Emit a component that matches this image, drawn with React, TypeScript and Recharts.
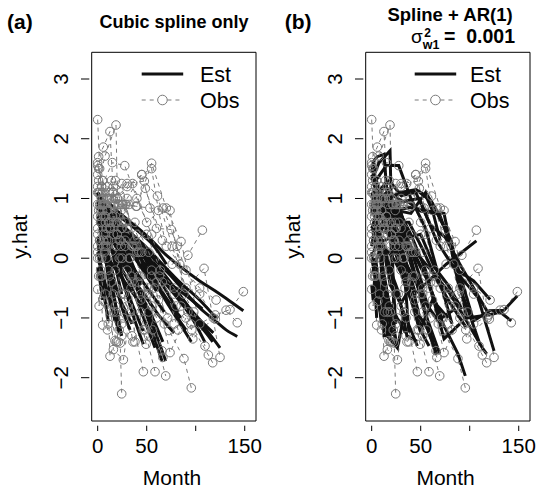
import React from 'react';
import { LineChart, Line, XAxis, YAxis, ReferenceArea } from 'recharts';

// ---------- tick labels ----------
const monthTicks = [0, 50, 100, 150];
const monthTickLabels = ['0', '50', '', '150'];
const yTicks = [-2, -1, 0, 1, 2, 3];
const yTickLabels = ['−2', '−1', '0', '1', '2', '3'];

// ---------- per-subject data (months, observed, spline estimate, spline+AR(1) estimate) ----------
const subjectTimes: number[][] = [
  [10, 25, 40, 55, 70, 85, 104, 120, 135, 148.6],
  [5, 18, 30, 45, 60, 75, 90, 104, 120, 131, 142.4],
  [3, 15, 30, 47.6, 61, 76, 90, 108.5, 124.8],
  [8, 20, 35.7, 50, 66.9, 81, 97, 118],
  [6, 22, 39, 53.3, 73.8, 88, 98, 109.5],
  [12, 28, 45, 63, 78, 95, 112.9, 117.3],
  [2, 14, 28, 44, 60, 76, 92, 106.8],
  [4, 16, 32, 48.6, 66, 83.7, 104, 120.8],
  [3, 12, 24.5, 38, 52, 69.4],
  [0, 10, 22, 35, 48, 58.5],
  [1, 9, 18, 27, 36, 46.5],
  [2, 14.6, 25, 35, 46.6],
  [5, 20, 35, 50, 65.6],
  [8, 25, 42, 58, 72.8, 88, 95.5],
  [10, 26, 40, 55, 73.8, 90],
  [6, 20, 34, 49.4, 62, 78],
  [0, 12, 24, 40, 55, 71.4, 85],
  [4, 15, 27.6, 40, 55, 70, 82],
  [0, 2, 5, 9, 12.6, 17.6],
  [1, 5.7, 12.5, 19, 24.5],
  [0, 7.5, 18.7, 23, 24.5],
  [3, 8, 14, 19, 24.5],
  [0, 3, 6.3, 10.8],
  [0, 1.5, 3, 5.1],
  [2, 9, 16, 26.2, 33],
  [0, 4, 10, 15.9, 22],
  [1, 6, 14, 21, 30, 38],
  [0, 5, 11, 17, 24],
  [5, 18, 30, 45, 55, 62, 70],
  [0, 6, 13, 20, 28, 36, 44, 52, 60],
  [3, 11, 19, 30, 41, 52],
  [0, 8, 16, 25, 34, 44, 56, 66.5],
  [1, 7, 14, 24, 38, 52, 66, 80, 96],
  [0, 4, 9, 15, 22, 30],
  [0, 3, 7, 12, 18, 26, 35],
  [1, 6, 12, 20, 29, 40, 52],
  [0, 2, 6, 11, 16, 21],
  [2, 8, 15, 23, 32, 42, 55, 68],
  [0, 5, 10, 16, 24, 33, 44],
  [1, 4, 8, 13, 19],
  [3, 10, 18, 28, 38, 50, 64, 78, 92],
];

const obsValues: number[][] = [
  [1.2, 0.9, 0.87, 1.59, 0.84, 0.28, -1.1, -0.95, -0.86, -0.56],
  [0.9, 1.3, 1.0, 1.4, 0.5, 0.48, -0.2, -0.6, -1.02, -0.87, -1.08],
  [0.7, 1.1, 1.25, 1.29, 1.04, 0.2, -0.5, -0.17, -1.66],
  [0.6, 1.0, 1.25, 0.6, 0.84, 0.2, -1.35, -1.0],
  [0.4, 0.9, 0.87, 0.84, 0.8, -0.6, -0.9, -1.47],
  [0.5, 0.3, 0.1, -0.3, -0.6, -1.1, -1.62, -1.75],
  [0.3, 0.6, 0.2, -0.7, -0.4, -0.1, 0.05, 0.47],
  [1.0, 1.2, 0.9, 1.17, 0.3, -0.1, -0.5, -0.7],
  [0.9, 0.6, 1.25, 0.2, -0.9, -1.97],
  [0.5, 0.2, 0.0, -0.4, -1.2, -1.9],
  [0.8, 0.3, -0.2, -0.6, -1.4, -1.2],
  [0.3, 0.12, -0.6, -1.0, -1.9],
  [1.1, 0.6, 0.2, -0.6, -1.55],
  [0.7, 0.5, 0.1, -0.5, -1.21, -1.68, -2.17],
  [0.8, 0.9, 0.4, -0.2, -1.58, -1.0],
  [0.2, 0.4, -0.3, -1.44, -0.7, -1.1],
  [1.4, 1.1, 0.8, 0.2, -0.3, -1.0, -0.8],
  [1.2, 1.6, 1.55, 1.0, 0.4, -0.5, -1.2],
  [2.32, 1.5, 0.9, 0.0, -1.64, -1.38],
  [1.7, 1.86, 2.12, 0.2, -1.3],
  [1.2, 1.71, 2.23, -1.42, -2.27],
  [0.6, 0.2, -0.4, -0.9, -1.1],
  [0.1, -0.3, -0.72, -1.1],
  [-0.52, -0.8, -0.3, -1.12],
  [0.9, 0.5, -1.53, -1.7, -0.9],
  [0.0, -0.3, -1.2, -0.6, -1.2],
  [1.5, 1.0, 1.3, 0.9, 0.5, -1.4],
  [0.9, 1.3, 0.6, 0.9, 0.2],
  [0.8, 1.0, 1.2, 1.4, 1.5, 0.8, 0.2],
  [0.4, 0.9, 0.5, 1.0, 0.6, 0.2, -0.3, -0.6, -1.0],
  [-0.2, 0.3, -0.5, -0.8, -0.4, -1.3],
  [1.1, 0.7, 0.4, 0.0, -0.5, -0.9, -1.2, -1.66],
  [1.3, 0.9, 1.0, 0.5, 0.6, 0.1, -0.4, -0.8, -1.2],
  [1.6, 1.2, 1.0, 0.7, 0.3, -0.2],
  [0.2, 0.6, 0.1, -0.3, -0.8, -1.0, -1.3],
  [1.1, 0.7, 1.0, 0.4, 0.9, 0.1, -0.5],
  [0.7, 1.1, 0.3, -0.2, -0.9, -1.4],
  [0.0, 0.4, 0.7, 0.3, 0.0, -0.3, -0.8, -1.1],
  [1.55, 1.3, 0.8, 1.1, 0.6, 0.0, -0.6],
  [-0.3, 0.0, -0.6, -0.9, -1.4],
  [0.8, 1.0, 0.6, 0.9, 0.3, 0.4, -0.2, -0.5, -0.9],
];

const splineEst: number[][] = [
  [0.95, 0.72, 0.52, 0.3, 0.05, -0.15, -0.38, -0.55, -0.72, -0.88],
  [0.85, 0.65, 0.45, 0.2, -0.05, -0.3, -0.58, -0.83, -1.05, -1.2, -1.31],
  [0.8, 0.62, 0.38, 0.08, -0.18, -0.5, -0.8, -1.15, -1.5],
  [0.75, 0.55, 0.3, 0.05, -0.25, -0.55, -0.9, -1.25],
  [0.7, 0.45, 0.15, -0.1, -0.45, -0.8, -1.05, -1.41],
  [0.6, 0.35, 0.05, -0.3, -0.6, -0.95, -1.3, -1.4],
  [0.55, 0.35, 0.15, -0.05, -0.25, -0.45, -0.65, -0.85],
  [0.9, 0.7, 0.45, 0.2, -0.1, -0.4, -0.7, -1.0],
  [0.7, 0.4, 0.0, -0.45, -0.95, -1.72],
  [0.6, 0.3, -0.1, -0.5, -1.05, -1.5],
  [0.75, 0.4, 0.0, -0.4, -0.8, -1.22],
  [0.4, 0.12, -0.35, -0.9, -1.44],
  [1.0, 0.4, -0.2, -0.95, -1.72],
  [0.6, 0.3, -0.05, -0.4, -0.8, -1.2, -1.4],
  [0.8, 0.5, 0.15, -0.25, -0.8, -1.2],
  [0.3, 0.05, -0.3, -0.65, -0.95, -1.25],
  [1.05, 0.8, 0.5, 0.1, -0.3, -0.7, -1.0],
  [0.95, 0.75, 0.5, 0.2, -0.15, -0.55, -0.9],
  [1.1, 0.8, 0.4, -0.1, -0.6, -1.05],
  [0.9, 0.65, 0.3, -0.2, -0.6],
  [0.85, 0.6, 0.2, -0.05, -0.15],
  [0.5, 0.1, -0.35, -0.85, -1.3],
  [0.3, -0.1, -0.55, -1.05],
  [-0.15, -0.3, -0.45, -0.7],
  [0.6, 0.2, -0.3, -0.9, -1.2],
  [0.1, -0.2, -0.6, -0.9, -1.25],
  [1.0, 0.85, 0.6, 0.35, 0.0, -0.45],
  [0.95, 0.8, 0.65, 0.45, 0.2],
  [0.85, 0.75, 0.6, 0.4, 0.25, 0.1, -0.1],
  [0.7, 0.6, 0.5, 0.4, 0.25, 0.1, -0.1, -0.35, -0.55],
  [0.2, 0.0, -0.2, -0.45, -0.7, -0.95],
  [0.9, 0.65, 0.4, 0.1, -0.25, -0.6, -1.0, -1.4],
  [0.95, 0.85, 0.7, 0.5, 0.25, 0.0, -0.3, -0.6, -0.95],
  [1.05, 0.9, 0.7, 0.45, 0.15, -0.2],
  [0.35, 0.2, 0.0, -0.25, -0.5, -0.8, -1.1],
  [0.8, 0.7, 0.55, 0.4, 0.2, -0.05, -0.35],
  [0.7, 0.55, 0.25, -0.15, -0.6, -1.0],
  [0.45, 0.4, 0.3, 0.15, -0.05, -0.3, -0.6, -0.9],
  [1.1, 0.95, 0.8, 0.6, 0.35, 0.0, -0.45],
  [-0.05, -0.2, -0.45, -0.75, -1.05],
  [0.8, 0.7, 0.55, 0.4, 0.2, 0.0, -0.3, -0.55, -0.8],
];

const arEst: number[][] = [
  [1.0, 0.8, 0.75, 1.1, 0.7, 0.0, -1.05, -0.88, -0.87, -0.63],
  [1.0, 1.3, 1.05, 1.1, 0.55, 0.35, -0.1, -0.5, -0.95, -0.9, -1.05],
  [0.8, 1.0, 1.1, 1.12, 0.95, 0.46, -0.3, -0.66, -1.55],
  [0.7, 0.9, 0.96, 0.79, 0.75, 0.3, -1.0, -0.95],
  [0.5, 0.8, 0.85, 0.8, 0.75, -0.4, -0.85, -1.4],
  [0.45, 0.35, 0.1, -0.25, -0.55, -1.0, -1.5, -1.6],
  [0.4, 0.55, 0.2, -0.6, -0.35, -0.1, 0.1, 0.29],
  [1.0, 1.1, 0.95, 1.0, 0.3, -0.16, -0.38, -0.69],
  [0.9, 0.7, 0.9, 0.1, -0.8, -1.6],
  [0.5, 0.25, 0.0, -0.4, -1.15, -1.47],
  [0.8, 0.35, -0.15, -0.55, -1.3, -1.39],
  [0.3, 0.1, -0.6, -1.0, -1.47],
  [1.1, 0.6, 0.15, -0.6, -1.61],
  [0.7, 0.5, 0.1, -0.4, -1.1, -1.6, -1.97],
  [0.8, 0.85, 0.4, -0.2, -1.35, -1.1],
  [0.25, 0.35, -0.25, -1.2, -0.7, -1.0],
  [1.4, 1.0, 0.75, 0.2, -0.3, -1.0, -0.85],
  [1.3, 1.55, 1.55, 1.0, 0.5, -0.4, -1.1],
  [1.6, 1.6, 1.0, 0.2, -1.3, -1.3],
  [1.6, 1.7, 1.74, 0.4, -1.1],
  [1.3, 1.6, 1.8, -1.2, -1.45],
  [0.6, 0.15, -0.4, -0.9, -1.35],
  [0.1, -0.3, -0.7, -1.05],
  [-0.45, -0.7, -0.35, -1.0],
  [0.85, 0.4, -1.3, -1.5, -0.95],
  [0.0, -0.3, -1.1, -0.65, -1.15],
  [1.5, 1.1, 1.25, 0.9, 0.5, -1.25],
  [1.0, 1.2, 0.7, 0.85, 0.25],
  [0.85, 1.0, 1.1, 1.15, 1.05, 0.8, 0.3],
  [0.5, 0.8, 0.55, 0.9, 0.6, 0.25, -0.25, -0.55, -0.9],
  [-0.1, 0.25, -0.45, -0.75, -0.45, -1.2],
  [1.1, 0.75, 0.45, 0.05, -0.45, -0.85, -1.15, -1.61],
  [1.3, 1.0, 1.0, 0.6, 0.6, 0.15, -0.35, -0.75, -1.15],
  [1.55, 1.25, 1.0, 0.7, 0.35, -0.15],
  [0.2, 0.5, 0.15, -0.3, -0.75, -1.0, -1.25],
  [1.05, 0.75, 0.95, 0.5, 0.8, 0.15, -0.45],
  [0.75, 1.0, 0.35, -0.15, -0.85, -1.3],
  [0.1, 0.4, 0.65, 0.35, 0.0, -0.3, -0.75, -1.05],
  [1.5, 1.3, 0.85, 1.05, 0.6, 0.05, -0.55],
  [-0.25, 0.0, -0.55, -0.85, -1.35],
  [0.8, 0.95, 0.65, 0.85, 0.35, 0.4, -0.15, -0.45, -0.85],
];

// ---------- styling ----------
const FONT = '"Liberation Sans", Arial, Helvetica, sans-serif';
const GRAY = '#7a7a7a';
const INK = '#111111';
const X_DOMAIN: [number, number] = [-6.1, 161.5];
const Y_DOMAIN: [number, number] = [-2.725, 3.447];
const TICK_FONT = 20.5;

function XTick(props: any) {
  const { x, y, payload } = props;
  const idx = monthTicks.indexOf(payload.value);
  const label = idx >= 0 ? monthTickLabels[idx] : '';
  return (
    <g>
      <line x1={x} x2={x} y1={y + 4.7} y2={y + 10} stroke="#000" strokeWidth={1} />
      {label ? (
        <text x={x} y={y + 32.3} textAnchor="middle" fontSize={TICK_FONT} fontFamily={FONT} fill="#000">
          {label}
        </text>
      ) : null}
    </g>
  );
}

function YTick(props: any) {
  const { x, y, payload } = props;
  const idx = yTicks.indexOf(payload.value);
  const label = idx >= 0 ? yTickLabels[idx] : '';
  const tx = x - 23.4;
  return (
    <g>
      <line x1={x - 10.7} x2={x - 2.4} y1={y} y2={y} stroke="#000" strokeWidth={1} />
      <text
        x={tx}
        y={y}
        transform={`rotate(-90 ${tx} ${y})`}
        textAnchor="middle"
        fontSize={TICK_FONT}
        fontFamily={FONT}
        fill="#000"
      >
        {label}
      </text>
    </g>
  );
}

function Panel({ left, est, smooth }: { left: number; est: number[][]; smooth: boolean }) {
  const series: React.ReactNode[] = [];
  subjectTimes.forEach((times, i) => {
    const obsData = times.map((t, j) => ({ t, y: obsValues[i][j] }));
    const estData = times.map((t, j) => ({ t, y: est[i][j] }));
    series.push(
      <Line
        key={`obs-${i}`}
        data={obsData}
        dataKey="y"
        type="linear"
        stroke={GRAY}
        strokeWidth={1}
        strokeDasharray="4 4"
        dot={{ r: 4.3, stroke: GRAY, strokeWidth: 1, fill: 'none', strokeDasharray: 'none' }}
        activeDot={false}
        isAnimationActive={false}
      />
    );
    series.push(
      <Line
        key={`est-${i}`}
        data={estData}
        dataKey="y"
        type={smooth ? 'monotone' : 'linear'}
        stroke={INK}
        strokeWidth={3}
        dot={false}
        activeDot={false}
        isAnimationActive={false}
      />
    );
  });
  return (
    <div style={{ position: 'absolute', left, top: 0 }}>
      <LineChart width={264} height={490} margin={{ top: 52.3, right: 8, bottom: 29, left: 31.7 }}>
        <XAxis
          type="number"
          dataKey="t"
          domain={X_DOMAIN}
          ticks={monthTicks}
          interval={0}
          allowDataOverflow
          axisLine={false}
          tickLine={false}
          tickSize={0}
          tickMargin={0}
          height={40}
          tick={(p: any) => <XTick {...p} />}
        />
        <YAxis
          type="number"
          domain={Y_DOMAIN}
          ticks={yTicks}
          interval={0}
          allowDataOverflow
          axisLine={false}
          tickLine={false}
          tickSize={0}
          tickMargin={0}
          width={60}
          tick={(p: any) => <YTick {...p} />}
        />
        <ReferenceArea
          x1={X_DOMAIN[0]}
          x2={X_DOMAIN[1]}
          y1={Y_DOMAIN[0]}
          y2={Y_DOMAIN[1]}
          fill="none"
          fillOpacity={0}
          stroke="#000"
          strokeWidth={1}
          ifOverflow="visible"
        />
        {series}
      </LineChart>
    </div>
  );
}

function Legend({ x0, textX }: { x0: number; textX: number }) {
  const x1 = x0 + 41.5;
  const cx = (x0 + x1) / 2;
  return (
    <g>
      <line x1={x0} x2={x1} y1={74} y2={74} stroke={INK} strokeWidth={3} />
      <text x={textX} y={82.3} fontSize={21.5} fontFamily={FONT} fill="#000">
        Est
      </text>
      <line x1={x0} x2={cx - 5} y1={100} y2={100} stroke={GRAY} strokeWidth={1} strokeDasharray="4 4" />
      <line x1={cx + 5} x2={x1} y1={100} y2={100} stroke={GRAY} strokeWidth={1} strokeDasharray="4 4" />
      <circle cx={cx} cy={100} r={4.8} stroke={GRAY} strokeWidth={1} fill="none" />
      <text x={textX} y={108.3} fontSize={21.5} fontFamily={FONT} fill="#000">
        Obs
      </text>
    </g>
  );
}

export default function App() {
  return (
    <div
      style={{
        position: 'absolute',
        left: 0,
        top: 0,
        width: 538,
        height: 490,
        overflow: 'hidden',
        background: '#fff',
      }}
    >
      <Panel left={0} est={splineEst} smooth={true} />
      <Panel left={273.6} est={arEst} smooth={false} />
      <svg
        width={538}
        height={490}
        style={{ position: 'absolute', left: 0, top: 0, pointerEvents: 'none' }}
      >
        {/* panel (a) */}
        <text x={7} y={28.5} fontSize={21} fontWeight="bold" fontFamily={FONT}>
          (a)
        </text>
        <text x={174} y={28.3} fontSize={18} fontWeight="bold" fontFamily={FONT} textAnchor="middle">
          Cubic spline only
        </text>
        <text x={172} y={485} fontSize={21} fontFamily={FONT} textAnchor="middle">
          Month
        </text>
        <text
          x={26.7}
          y={236.7}
          fontSize={21}
          fontFamily={FONT}
          textAnchor="middle"
          transform="rotate(-90 26.7 236.7)"
        >
          y.hat
        </text>
        <Legend x0={141.7} textX={200} />

        {/* panel (b) */}
        <text x={284.7} y={28.5} fontSize={21} fontWeight="bold" fontFamily={FONT}>
          (b)
        </text>
        <text x={450} y={20.5} fontSize={18.5} fontWeight="bold" fontFamily={FONT} textAnchor="middle">
          Spline + AR(1)
        </text>
        <text x={411} y={43.3} fontSize={19} fontFamily={FONT}>
          σ
        </text>
        <text x={424.3} y={36.5} fontSize={12} fontWeight="bold" fontFamily={FONT}>
          2
        </text>
        <text x={422.7} y={49} fontSize={12.5} fontWeight="bold" fontFamily={FONT}>
          w1
        </text>
        <text x={444} y={43.3} fontSize={19.5} fontWeight="bold" fontFamily={FONT}>
          =
        </text>
        <text x={515} y={43.3} fontSize={19.5} fontWeight="bold" fontFamily={FONT} textAnchor="end">
          0.001
        </text>
        <text x={445.6} y={485} fontSize={21} fontFamily={FONT} textAnchor="middle">
          Month
        </text>
        <text
          x={300.3}
          y={236.7}
          fontSize={21}
          fontFamily={FONT}
          textAnchor="middle"
          transform="rotate(-90 300.3 236.7)"
        >
          y.hat
        </text>
        <Legend x0={414.7} textX={470} />
      </svg>
    </div>
  );
}
